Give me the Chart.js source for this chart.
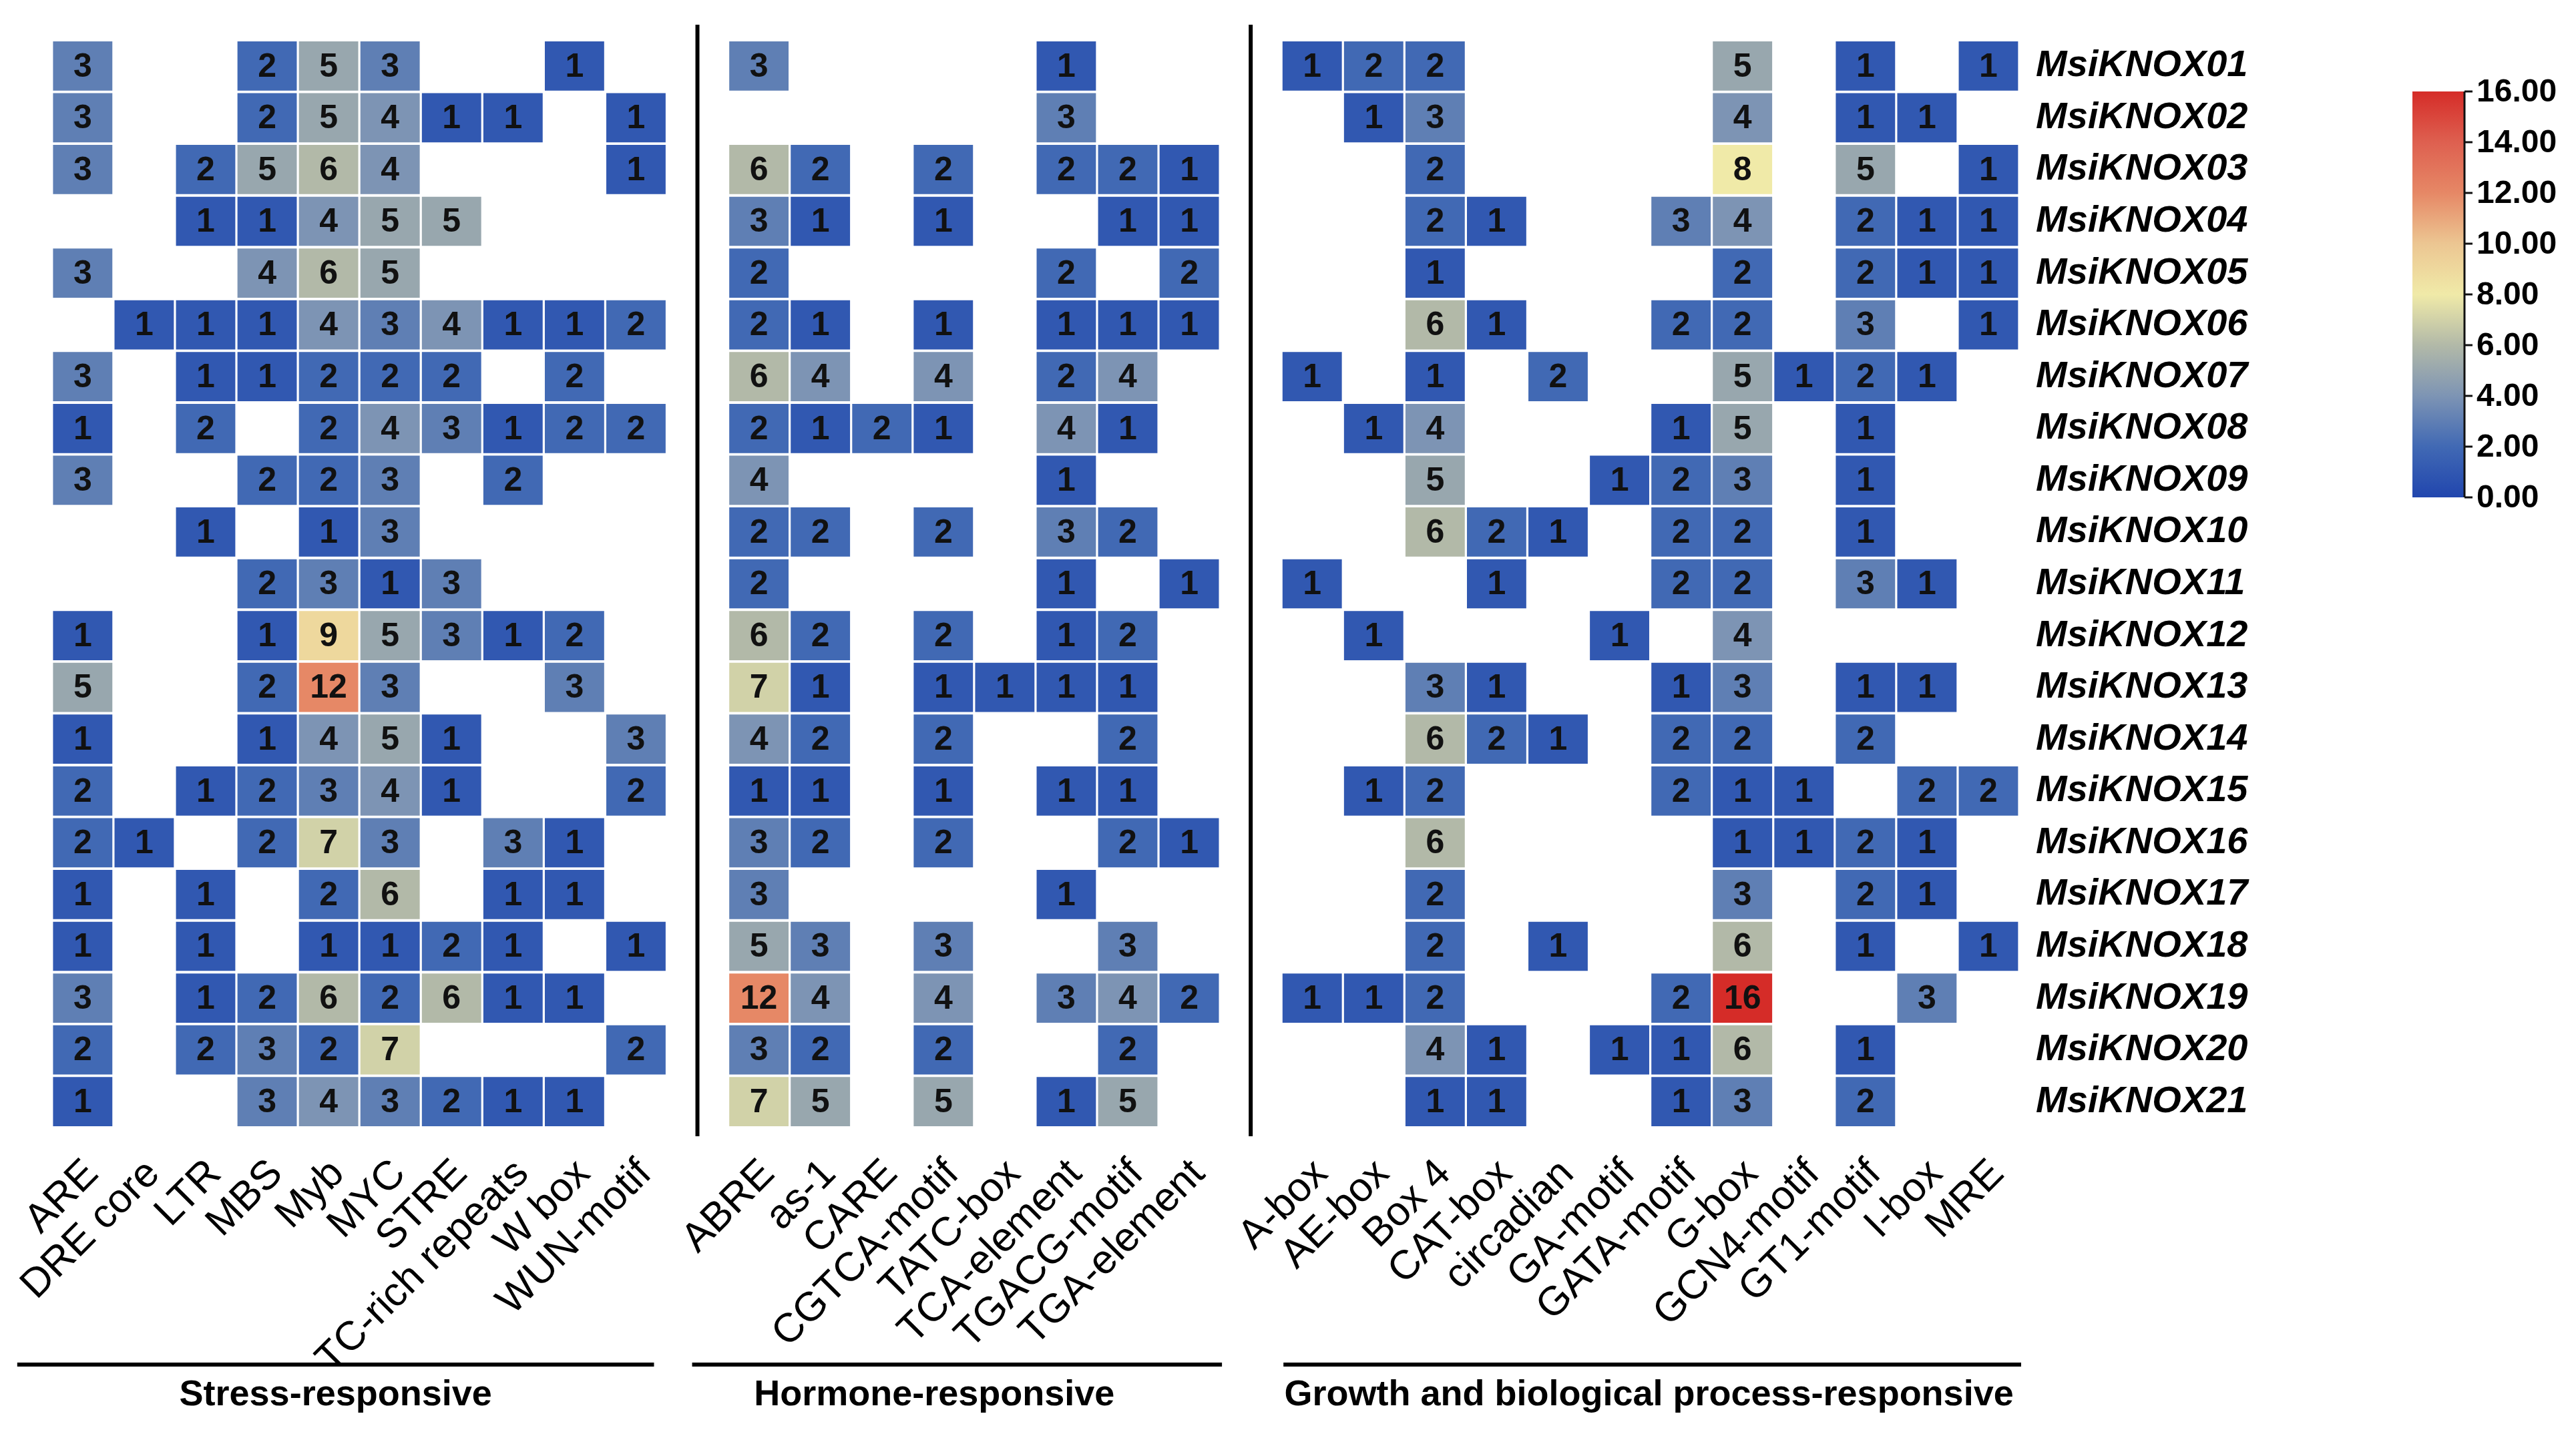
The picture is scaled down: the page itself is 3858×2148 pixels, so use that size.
<!DOCTYPE html>
<html>
<head>
<meta charset="utf-8">
<script src="https://cdn.jsdelivr.net/npm/chart.js@4.4.1/dist/chart.umd.min.js"></script>
<style>
html,body{margin:0;padding:0;background:#fff;}
canvas{display:block;}
</style>
</head>
<body>
<canvas id="c" width="3858" height="2148"></canvas>
<script>
// ---------- DATA ----------
const genes = ['MsiKNOX01','MsiKNOX02','MsiKNOX03','MsiKNOX04','MsiKNOX05','MsiKNOX06','MsiKNOX07',
  'MsiKNOX08','MsiKNOX09','MsiKNOX10','MsiKNOX11','MsiKNOX12','MsiKNOX13','MsiKNOX14',
  'MsiKNOX15','MsiKNOX16','MsiKNOX17','MsiKNOX18','MsiKNOX19','MsiKNOX20','MsiKNOX21'];

const stressElements = ['ARE','DRE core','LTR','MBS','Myb','MYC','STRE','TC-rich repeats','W box','WUN-motif'];
const hormoneElements = ['ABRE','as-1','CARE','CGTCA-motif','TATC-box','TCA-element','TGACG-motif','TGA-element'];
const growthElements = ['A-box','AE-box','Box 4','CAT-box','circadian','GA-motif','GATA-motif','G-box','GCN4-motif','GT1-motif','I-box','MRE'];

const groupTitles = ['Stress-responsive','Hormone-responsive','Growth and biological process-responsive'];

// 0 = element absent (blank cell)
const stressValues = [
  [3,0,0,2,5,3,0,0,1,0],
  [3,0,0,2,5,4,1,1,0,1],
  [3,0,2,5,6,4,0,0,0,1],
  [0,0,1,1,4,5,5,0,0,0],
  [3,0,0,4,6,5,0,0,0,0],
  [0,1,1,1,4,3,4,1,1,2],
  [3,0,1,1,2,2,2,0,2,0],
  [1,0,2,0,2,4,3,1,2,2],
  [3,0,0,2,2,3,0,2,0,0],
  [0,0,1,0,1,3,0,0,0,0],
  [0,0,0,2,3,1,3,0,0,0],
  [1,0,0,1,9,5,3,1,2,0],
  [5,0,0,2,12,3,0,0,3,0],
  [1,0,0,1,4,5,1,0,0,3],
  [2,0,1,2,3,4,1,0,0,2],
  [2,1,0,2,7,3,0,3,1,0],
  [1,0,1,0,2,6,0,1,1,0],
  [1,0,1,0,1,1,2,1,0,1],
  [3,0,1,2,6,2,6,1,1,0],
  [2,0,2,3,2,7,0,0,0,2],
  [1,0,0,3,4,3,2,1,1,0]
];

const hormoneValues = [
  [3,0,0,0,0,1,0,0],
  [0,0,0,0,0,3,0,0],
  [6,2,0,2,0,2,2,1],
  [3,1,0,1,0,0,1,1],
  [2,0,0,0,0,2,0,2],
  [2,1,0,1,0,1,1,1],
  [6,4,0,4,0,2,4,0],
  [2,1,2,1,0,4,1,0],
  [4,0,0,0,0,1,0,0],
  [2,2,0,2,0,3,2,0],
  [2,0,0,0,0,1,0,1],
  [6,2,0,2,0,1,2,0],
  [7,1,0,1,1,1,1,0],
  [4,2,0,2,0,0,2,0],
  [1,1,0,1,0,1,1,0],
  [3,2,0,2,0,0,2,1],
  [3,0,0,0,0,1,0,0],
  [5,3,0,3,0,0,3,0],
  [12,4,0,4,0,3,4,2],
  [3,2,0,2,0,0,2,0],
  [7,5,0,5,0,1,5,0]
];

const growthValues = [
  [1,2,2,0,0,0,0,5,0,1,0,1],
  [0,1,3,0,0,0,0,4,0,1,1,0],
  [0,0,2,0,0,0,0,8,0,5,0,1],
  [0,0,2,1,0,0,3,4,0,2,1,1],
  [0,0,1,0,0,0,0,2,0,2,1,1],
  [0,0,6,1,0,0,2,2,0,3,0,1],
  [1,0,1,0,2,0,0,5,1,2,1,0],
  [0,1,4,0,0,0,1,5,0,1,0,0],
  [0,0,5,0,0,1,2,3,0,1,0,0],
  [0,0,6,2,1,0,2,2,0,1,0,0],
  [1,0,0,1,0,0,2,2,0,3,1,0],
  [0,1,0,0,0,1,0,4,0,0,0,0],
  [0,0,3,1,0,0,1,3,0,1,1,0],
  [0,0,6,2,1,0,2,2,0,2,0,0],
  [0,1,2,0,0,0,2,1,1,0,2,2],
  [0,0,6,0,0,0,0,1,1,2,1,0],
  [0,0,2,0,0,0,0,3,0,2,1,0],
  [0,0,2,0,1,0,0,6,0,1,0,1],
  [1,1,2,0,0,0,2,16,0,0,3,0],
  [0,0,4,1,0,1,1,6,0,1,0,0],
  [0,0,1,1,0,0,1,3,0,2,0,0]
];

const colorbarTicks = [0,2,4,6,8,10,12,14,16];
const colorMin = 0, colorMax = 16;

// ---------- COLOR MAP ----------
const colorStops = [
  [0,[33,70,174]],[2,[65,105,180]],[4,[125,148,180]],[6,[178,185,168]],
  [8,[240,234,168]],[10,[236,198,146]],[12,[230,136,102]],[14,[222,96,80]],[16,[213,44,40]]
];
function colorFor(v){
  if (v <= colorStops[0][0]) return 'rgb(' + colorStops[0][1].join(',') + ')';
  for (let i = 1; i < colorStops.length; i++){
    const [v1,c1] = colorStops[i];
    const [v0,c0] = colorStops[i-1];
    if (v <= v1){
      const t = (v - v0)/(v1 - v0);
      const c = c0.map((x,k)=>Math.round(x + (c1[k]-x)*t));
      return 'rgb(' + c.join(',') + ')';
    }
  }
  return 'rgb(' + colorStops[colorStops.length-1][1].join(',') + ')';
}

// ---------- BUILD TABLE ----------
const SPACER = '';
const xLabels = [...stressElements, SPACER, ...hormoneElements, SPACER, ...growthElements];
const fullRows = genes.map((g,i)=>[...stressValues[i], 0, ...hormoneValues[i], 0, ...growthValues[i]]);
const H = 0.475;
const datasets = genes.map((g,i)=>{
  const r = i + 1;
  const vals = fullRows[i];
  return {
    label: g,
    cellValues: vals,
    data: vals.map(v => v > 0 ? [r - H, r + H] : null),
    backgroundColor: vals.map(v => colorFor(v)),
    borderWidth: 0,
    borderSkipped: false,
    grouped: false,
    barPercentage: 0.965,
    categoryPercentage: 1.0
  };
});

const W = 3858, HGT = 2148;
const CHART_RIGHT = 3024, CHART_BOTTOM = 1689;

// ---------- PLUGINS ----------
const cellText = {
  id: 'cellText',
  afterDatasetsDraw(chart){
    const ctx = chart.ctx;
    ctx.save();
    ctx.font = 'bold 50px "Liberation Sans", Arial, sans-serif';
    ctx.fillStyle = '#111';
    ctx.textAlign = 'center';
    ctx.textBaseline = 'middle';
    chart.data.datasets.forEach((ds, di)=>{
      const meta = chart.getDatasetMeta(di);
      meta.data.forEach((el, j)=>{
        const v = ds.cellValues[j];
        if (v > 0 && el){
          const yc = (el.y + el.base)/2;
          ctx.fillText(String(v), el.x, yc + 2);
        }
      });
    });
    ctx.restore();
  }
};

const decorations = {
  id: 'decorations',
  afterDraw(chart){
    const ctx = chart.ctx;
    const xs = chart.scales.x;
    const area = chart.chartArea;
    const half = (xs.getPixelForValue(1) - xs.getPixelForValue(0))/2;
    ctx.save();
    // vertical separators at spacer columns
    ctx.strokeStyle = '#000';
    ctx.lineWidth = 6;
    const sp1 = stressElements.length;
    const sp2 = stressElements.length + 1 + hormoneElements.length;
    [sp1, sp2].forEach(idx=>{
      const x = xs.getPixelForValue(idx);
      ctx.beginPath();
      ctx.moveTo(x, area.top - 23);
      ctx.lineTo(x, area.bottom + 13);
      ctx.stroke();
    });
    // group underlines + titles
    const groups = [
      {a: 0, b: sp1 - 1, dl: -52, dr: -19, tc: 0},
      {a: sp1 + 1, b: sp2 - 1, dl: -54, dr: 3, tc: -34},
      {a: sp2 + 1, b: xLabels.length - 1, dl: 3, dr: 3, tc: -5}
    ];
    const lineY = 2044;
    ctx.lineWidth = 6;
    ctx.font = 'bold 54px "Liberation Sans", Arial, sans-serif';
    ctx.fillStyle = '#000';
    ctx.textAlign = 'center';
    ctx.textBaseline = 'middle';
    groups.forEach((g, gi)=>{
      const x0 = xs.getPixelForValue(g.a) - half + g.dl;
      const x1 = xs.getPixelForValue(g.b) + half + g.dr;
      ctx.beginPath();
      ctx.moveTo(x0, lineY);
      ctx.lineTo(x1, lineY);
      ctx.stroke();
      ctx.fillText(groupTitles[gi], (x0 + x1)/2 + g.tc, 2090);
    });

    // colour bar
    const cbX = 3613, cbW = 78, cbTop = 137, cbBot = 745;
    const grad = ctx.createLinearGradient(0, cbBot, 0, cbTop);
    colorStops.forEach(([v,c])=>{
      grad.addColorStop((v - colorMin)/(colorMax - colorMin), 'rgb(' + c.join(',') + ')');
    });
    ctx.fillStyle = grad;
    ctx.fillRect(cbX, cbTop, cbW, cbBot - cbTop);
    ctx.strokeStyle = '#111';
    ctx.lineWidth = 3;
    ctx.beginPath();
    ctx.moveTo(cbX + cbW, cbTop);
    ctx.lineTo(cbX + cbW, cbBot);
    ctx.stroke();
    ctx.font = 'bold 48px "Liberation Sans", Arial, sans-serif';
    ctx.fillStyle = '#000';
    ctx.textAlign = 'left';
    ctx.textBaseline = 'middle';
    colorbarTicks.forEach(t=>{
      const y = cbBot - (t - colorMin)/(colorMax - colorMin)*(cbBot - cbTop);
      ctx.beginPath();
      ctx.moveTo(cbX + cbW, y);
      ctx.lineTo(cbX + cbW + 12, y);
      ctx.stroke();
      ctx.fillText(t.toFixed(2), cbX + cbW + 18, y + 2);
    });
    ctx.restore();
  }
};

// ---------- CHART ----------
new Chart(document.getElementById('c'), {
  type: 'bar',
  data: { labels: xLabels, datasets },
  options: {
    responsive: false,
    animation: false,
    devicePixelRatio: 1,
    layout: { padding: { left: 74, top: 60, right: 0, bottom: 0 } },
    plugins: { legend: { display: false }, tooltip: { enabled: false } },
    scales: {
      x: {
        type: 'category',
        offset: true,
        grid: { display: false, drawTicks: false },
        border: { display: false },
        ticks: {
          autoSkip: false,
          minRotation: 45,
          maxRotation: 45,
          padding: 34,
          labelOffset: 14,
          color: '#000',
          font: { family: '"Liberation Sans", Arial, sans-serif', size: 61 }
        },
        afterFit(scale){ scale.height = HGT - CHART_BOTTOM; }
      },
      y: {
        type: 'linear',
        position: 'right',
        reverse: true,
        min: 0.5,
        max: genes.length + 0.5,
        grid: { display: false, drawTicks: false },
        border: { display: false },
        afterBuildTicks(scale){ scale.ticks = genes.map((g,i)=>({ value: i + 1 })); },
        ticks: {
          padding: 25,
          color: '#000',
          font: { family: '"Liberation Sans", Arial, sans-serif', size: 56, weight: 'bold', style: 'italic' },
          callback: (v)=> genes[Math.round(v) - 1] || ''
        },
        afterFit(scale){ scale.width = W - CHART_RIGHT; }
      }
    }
  },
  plugins: [cellText, decorations]
});
</script>
</body>
</html>
